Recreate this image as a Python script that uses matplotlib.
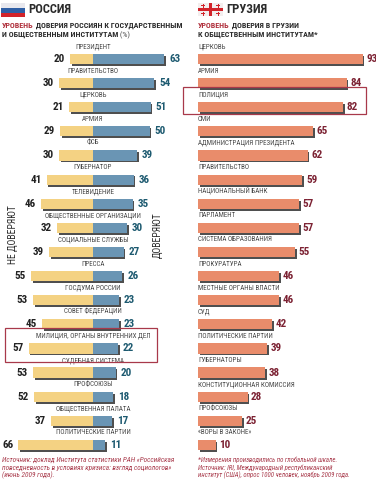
import matplotlib
matplotlib.use('Agg')
import matplotlib.pyplot as plt
import matplotlib.patheffects as pe
from matplotlib.patches import Rectangle
import numpy as np

plt.rcParams['font.family'] = ['Roboto Condensed', 'Liberation Sans', 'DejaVu Sans']

# Russia
ru_labels = ['ПРЕЗИДЕНТ', 'ПРАВИТЕЛЬСТВО', 'ЦЕРКОВЬ', 'АРМИЯ', 'ФСБ', 'ГУБЕРНАТОР',
             'ТЕЛЕВИДЕНИЕ', 'ОБЩЕСТВЕННЫЕ ОРГАНИЗАЦИИ', 'СОЦИАЛЬНЫЕ СЛУЖБЫ', 'ПРЕССА',
             'ГОСДУМА РОССИИ', 'СОВЕТ ФЕДЕРАЦИИ', 'МИЛИЦИЯ, ОРГАНЫ ВНУТРЕННИХ ДЕЛ',
             'СУДЕБНАЯ СИСТЕМА', 'ПРОФСОЮЗЫ', 'ОБЩЕСТВЕННАЯ ПАЛАТА', 'ПОЛИТИЧЕСКИЕ ПАРТИИ']
ru_distrust = [20, 30, 21, 29, 30, 41, 46, 32, 39, 55, 53, 45, 57, 53, 52, 37, 66]
ru_trust = [63, 54, 51, 50, 39, 36, 35, 30, 27, 26, 23, 23, 22, 20, 18, 17, 11]

# Georgia
ge_labels = ['ЦЕРКОВЬ', 'АРМИЯ', 'ПОЛИЦИЯ', 'СМИ', 'АДМИНИСТРАЦИЯ ПРЕЗИДЕНТА', 'ПРАВИТЕЛЬСТВО',
             'НАЦИОНАЛЬНЫЙ БАНК', 'ПАРЛАМЕНТ', 'СИСТЕМА ОБРАЗОВАНИЯ', 'ПРОКУРАТУРА',
             'МЕСТНЫЕ ОРГАНЫ ВЛАСТИ', 'СУД', 'ПОЛИТИЧЕСКИЕ ПАРТИИ', 'ГУБЕРНАТОРЫ',
             'КОНСТИТУЦИОННАЯ КОМИССИЯ', 'ПРОФСОЮЗЫ', '«ВОРЫ В ЗАКОНЕ»']
ge_trust = [93, 84, 82, 65, 62, 59, 57, 57, 55, 46, 46, 42, 39, 38, 28, 25, 10]

W, H = 376, 480
ROW0, ROW_H = 59, 24.12
RED = '#b0303c'
DARK = '#2b2b2b'
GREY = '#4a4a4a'
shadow = [pe.SimplePatchShadow(offset=(1.2, -1.4), shadow_rgbFace='#3c3c3c', alpha=0.9), pe.Normal()]

fig = plt.figure(figsize=(W / 100, H / 100), dpi=100)


def fx(px):
    return px / W


def fy(py):
    return 1 - py / H


def make_axes(left, right, zero, scale):
    ax = fig.add_axes([fx(left), 0, (right - left) / W, 1])
    ax.set_xlim((left - zero) / scale, (right - zero) / scale)
    ax.set_ylim((H - ROW0) / ROW_H, -ROW0 / ROW_H)
    ax.axis('off')
    return ax


# left panel
ax1 = make_axes(0, 188, 93, 1.13)
y1 = np.arange(len(ru_labels))
ax1.barh(y1, [-v for v in ru_distrust], height=0.42, color='#f4d283', path_effects=shadow)
ax1.barh(y1, ru_trust, height=0.42, color='#6a95b4', path_effects=shadow)
for i in y1:
    ax1.text(0, i - 0.5, ru_labels[i], ha='center', va='center', fontsize=5, color=GREY)
    ax1.text(-ru_distrust[i] - 4.5, i, str(ru_distrust[i]), ha='right', va='center',
             fontsize=8, fontweight='bold', color='#222222')
    ax1.text(ru_trust[i] + 4.5, i, str(ru_trust[i]), ha='left', va='center',
             fontsize=8, fontweight='bold', color='#1d5a70')

# right panel
ax2 = make_axes(188, 376, 198, 1.77)
y2 = np.arange(len(ge_labels))
ax2.barh(y2, ge_trust, height=0.42, color='#e98c6b', path_effects=shadow)
for i in y2:
    ax2.text(0, i - 0.5, ge_labels[i], ha='left', va='center', fontsize=5, color=GREY)
    ax2.text(ge_trust[i] + 2, i, str(ge_trust[i]), ha='left', va='center',
             fontsize=8, fontweight='bold', color='#7c2233')

# side captions
fig.text(fx(13), fy(235), 'НЕ ДОВЕРЯЮТ', rotation=90, ha='center', va='center', fontsize=7, color=DARK)
fig.text(fx(158), fy(235), 'ДОВЕРЯЮТ', rotation=90, ha='center', va='center', fontsize=7, color=DARK)

# highlight frames
for x0, x1, y0, y1_ in [(4.5, 157, 328, 362), (183, 366, 87, 114)]:
    fig.add_artist(Rectangle((fx(x0), fy(y1_)), (x1 - x0) / W, (y1_ - y0) / H, fill=False,
                             edgecolor='#a8394a', linewidth=0.9, transform=fig.transFigure))


def flag_rect(x0, y0, w, h, color):
    fig.add_artist(Rectangle((fx(x0), fy(y0 + h)), w / W, h / H, facecolor=color, edgecolor='none',
                             transform=fig.transFigure))


# flags
flag_rect(1, 3, 24, 5, '#e8e8ee')
flag_rect(1, 8, 24, 5, '#2f5fa5')
flag_rect(1, 13, 24, 4, '#d2232a')
flag_rect(198, 3, 25, 13, '#f3eeee')
flag_rect(209, 3, 3, 13, '#d2232a')
flag_rect(198, 8, 25, 3, '#d2232a')
for cx, cy in [(203, 5.5), (218, 5.5), (203, 13.5), (218, 13.5)]:
    flag_rect(cx - 2, cy - 0.5, 4, 1, '#d2232a')
    flag_rect(cx - 0.5, cy - 2, 1, 4, '#d2232a')

# headers
fig.text(fx(28), fy(9.5), 'РОССИЯ', fontsize=9, fontweight='bold', va='center', color=DARK)
fig.text(fx(226), fy(9.5), 'ГРУЗИЯ', fontsize=9, fontweight='bold', va='center', color=DARK)

renderer = fig.canvas.get_renderer()
for x, y, red, rest in [(2, 28, 'УРОВЕНЬ', ' ДОВЕРИЯ РОССИЯН К ГОСУДАРСТВЕННЫМ'),
                        (198, 28, 'УРОВЕНЬ', ' ДОВЕРИЯ В ГРУЗИИ')]:
    t = fig.text(fx(x), fy(y), red, fontsize=5.8, fontweight='bold', color=RED, va='baseline')
    red_w = t.get_window_extent(renderer).width
    fig.text(fx(x + red_w), fy(y), rest, fontsize=5.8, fontweight='bold', color=DARK, va='baseline')

t = fig.text(fx(2), fy(37), 'И ОБЩЕСТВЕННЫМ ИНСТИТУТАМ', fontsize=5.8, fontweight='bold', color=DARK,
             va='baseline')
fig.text(fx(2 + t.get_window_extent(renderer).width), fy(37), ' (%)', fontsize=5.8, color=GREY, va='baseline')
fig.text(fx(198), fy(37), 'К ОБЩЕСТВЕННЫМ ИНСТИТУТАМ*', fontsize=5.8, fontweight='bold', color=DARK,
         va='baseline')

# footnotes
ru_note = ['Источник: доклад Института статистики РАН «Российская',
           'повседневность в условиях кризиса: взгляд социологов»',
           '(июнь 2009 года).']
ge_note = ['*Измерения производились по глобальной шкале.',
           'Источник: IRI, Международный республиканский',
           'институт (США), опрос 1000 человек, ноябрь 2009 года.']
for x, size, lines in [(2, 5.2, ru_note), (198, 4.9, ge_note)]:
    for k, line in enumerate(lines):
        fig.text(fx(x), fy(460 + k * 7.8), line, fontsize=size, style='italic', color='#a8394a', va='center')

fig.savefig('out.png', dpi=100)
